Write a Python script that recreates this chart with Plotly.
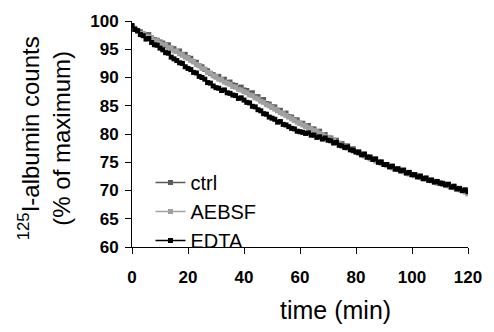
import plotly.graph_objects as go

time_min = list(range(0, 121))

ctrl = [99.0, 98.7, 98.2, 98.1, 97.7, 97.5, 97.6, 97.0, 96.7, 96.6, 96.3,
        96.1, 95.7, 95.8, 95.2, 95.1, 94.6, 94.7, 94.0, 94.1, 93.5,
        93.4, 92.8, 92.7, 92.1, 91.9, 91.4, 91.2, 90.7, 90.5, 90.1,
        90.2, 89.6, 89.7, 89.1, 89.2, 88.7, 88.6, 88.2, 88.3, 87.8,
        87.7, 87.2, 87.3, 86.6, 86.6, 86.0, 86.1, 85.4, 85.3, 84.8,
        84.8, 84.2, 84.2, 83.6, 83.7, 83.1, 83.0, 82.5, 82.5, 81.9,
        81.9, 81.4, 81.5, 80.9, 80.9, 80.4, 80.5, 79.9, 79.9, 79.4,
        79.3, 78.9, 78.9, 78.3, 78.3, 77.9, 77.9, 77.4, 77.4, 76.9,
        76.9, 76.4, 76.5, 75.9, 75.9, 75.5, 75.5, 75.0, 75.1, 74.6,
        74.6, 74.2, 74.3, 73.8, 73.9, 73.5, 73.6, 73.1, 73.2, 72.8,
        72.8, 72.5, 72.6, 72.1, 72.2, 71.8, 71.9, 71.5, 71.6, 71.3,
        71.3, 71.0, 71.1, 70.7, 70.8, 70.3, 70.4, 70.0, 70.1, 69.6]

aebsf = [98.8, 98.5, 98.3, 97.8, 97.8, 97.3, 97.2, 96.9, 96.5, 96.5, 96.1,
         95.8, 95.7, 95.3, 95.2, 94.7, 94.6, 94.2, 94.0, 93.6, 93.4,
         93.0, 92.8, 92.3, 92.1, 91.6, 91.5, 90.9, 90.8, 90.3, 90.2,
         89.7, 89.6, 89.2, 89.0, 88.8, 88.4, 88.3, 87.9, 87.8, 87.5,
         87.3, 86.9, 86.8, 86.4, 86.2, 85.8, 85.6, 85.2, 85.0, 84.7,
         84.4, 84.1, 83.8, 83.6, 83.3, 83.0, 82.7, 82.4, 82.1, 81.9,
         81.6, 81.4, 81.1, 80.9, 80.6, 80.4, 80.1, 79.9, 79.6, 79.4,
         79.1, 78.9, 78.5, 78.4, 78.0, 77.9, 77.5, 77.4, 77.0, 76.9,
         76.6, 76.4, 76.1, 75.9, 75.6, 75.5, 75.2, 75.0, 74.8, 74.6,
         74.4, 74.2, 74.0, 73.8, 73.7, 73.4, 73.3, 73.1, 72.9, 72.8,
         72.6, 72.5, 72.3, 72.1, 72.0, 71.8, 71.7, 71.5, 71.3, 71.2,
         71.1, 70.9, 70.8, 70.6, 70.5, 70.2, 70.1, 69.9, 69.7, 69.4]

edta = [99.2, 98.5, 98.3, 97.6, 97.4, 96.8, 96.9, 96.2, 95.8, 95.7, 95.2,
        94.9, 94.4, 94.3, 93.6, 93.3, 93.0, 92.6, 92.5, 91.9, 91.6,
        91.4, 90.9, 90.8, 90.2, 90.0, 89.7, 89.1, 89.0, 88.5, 88.2,
        88.1, 87.7, 87.8, 87.3, 87.2, 86.9, 86.8, 86.3, 86.4, 86.0,
        85.6, 85.5, 84.9, 84.8, 84.3, 84.1, 83.6, 83.5, 83.0, 82.8,
        82.6, 82.1, 82.2, 81.7, 81.6, 81.3, 81.0, 80.9, 80.5, 80.4,
        80.3, 80.1, 80.2, 79.8, 79.8, 79.4, 79.5, 79.1, 79.3, 78.9,
        78.8, 78.4, 78.5, 78.0, 77.9, 77.6, 77.7, 77.2, 77.1, 76.8,
        76.7, 76.3, 76.4, 75.9, 75.9, 75.5, 75.6, 75.0, 75.0, 74.6,
        74.6, 74.2, 74.3, 73.8, 73.8, 73.5, 73.6, 73.1, 73.2, 72.8,
        72.8, 72.4, 72.5, 72.1, 72.2, 71.8, 71.8, 71.5, 71.6, 71.3,
        71.2, 71.0, 71.1, 70.6, 70.7, 70.3, 70.3, 70.0, 70.1, 69.8]

x_ticks = [0, 20, 40, 60, 80, 100, 120]
y_ticks = [60, 65, 70, 75, 80, 85, 90, 95, 100]
x_tick_labels = ["0", "20", "40", "60", "80", "100", "120"]
y_tick_labels = ["60", "65", "70", "75", "80", "85", "90", "95", "100"]

series = [("ctrl", ctrl, "#5a5a5a"), ("AEBSF", aebsf, "#a0a0a0"), ("EDTA", edta, "#000000")]

fig = go.Figure()
for name, vals, col in series:
    fig.add_trace(go.Scatter(
        x=time_min, y=vals, name=name, mode="lines+markers",
        line=dict(color=col, width=1.5),
        marker=dict(symbol="square", size=5, color=col),
        legendgroup=name,
    ))

FONT = "Liberation Sans, Arial, sans-serif"
L, R, T, B = 132, 26, 14, 85
tickfont = dict(size=17, family=FONT, color="black")
fig.update_layout(
    width=494, height=332,
    margin=dict(l=L, r=R, t=T, b=B),
    plot_bgcolor="white", paper_bgcolor="white",
    font=dict(family=FONT, color="black"),
    showlegend=True,
    legend=dict(x=0.055, y=0.372, xanchor="left", yanchor="top",
                font=dict(size=20, family=FONT, color="black"),
                bgcolor="rgba(0,0,0,0)", itemwidth=30, tracegroupgap=0),
    xaxis=dict(range=[0, 120], tickvals=x_ticks,
               ticktext=["<b>%s</b>" % t for t in x_tick_labels],
               ticks="outside", ticklen=6,
               tickcolor="black", showline=True, linecolor="black", linewidth=1,
               showgrid=False, zeroline=False, tickfont=tickfont,
               ticklabelstandoff=9),
    yaxis=dict(range=[60, 100], tickvals=y_ticks,
               ticktext=["<b>%s</b>" % t for t in y_tick_labels],
               ticks="outside", ticklen=6,
               tickcolor="black", showline=True, linecolor="black", linewidth=1,
               showgrid=False, zeroline=False, tickfont=tickfont,
               ticklabelstandoff=3),
    annotations=[
        dict(text="time (min)", xref="paper", yref="paper",
             x=(335 - L) / 336, y=(247 - 312) / 233, xanchor="center", yanchor="middle",
             showarrow=False, font=dict(size=25, family=FONT, color="black")),
        dict(text="<sup>125</sup>I-albumin counts<br>(% of maximum)", xref="paper", yref="paper",
             x=(44 - L) / 336, y=(247 - 135) / 233, xanchor="center", yanchor="middle",
             textangle=-90, showarrow=False, font=dict(size=24, family=FONT, color="black")),
    ],
)

fig.write_html("out.html")
